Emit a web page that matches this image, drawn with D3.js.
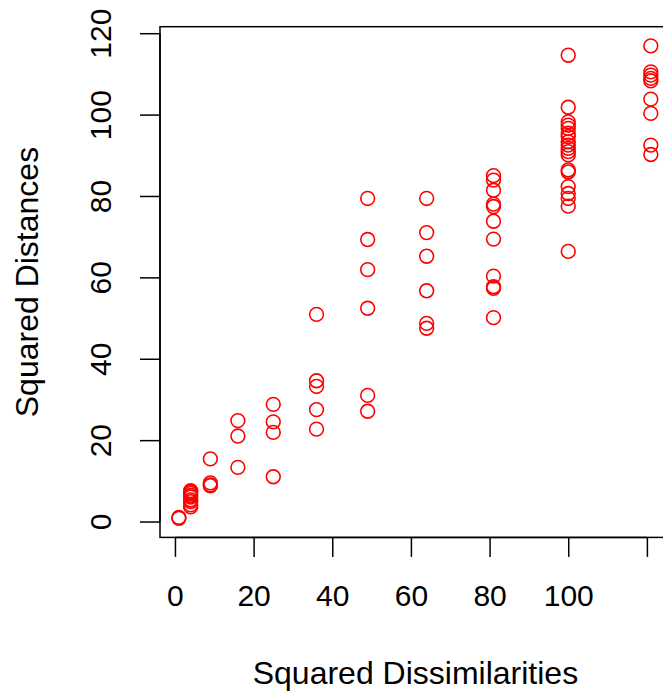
<!DOCTYPE html>
<html>
<head>
<meta charset="utf-8">
<script src="https://cdn.jsdelivr.net/npm/d3@7"></script>
<style>
  html, body { margin: 0; padding: 0; background: #fff; }
  svg { display: block; }
  text { font-family: "Liberation Sans", Arial, Helvetica, sans-serif; fill: #000; }
</style>
</head>
<body>
<svg id="chart" width="663" height="698"></svg>
<script>
// Squared dissimilarity levels and the squared configuration distances at each level
const dissimLevels = [1, 4, 9, 16, 25, 36, 49, 64, 81, 100, 121];
const distancesByLevel = [
  [1.0, 0.8],
  [3.6, 4.1, 4.9, 5.3, 6.0, 6.4, 6.9, 7.3, 7.6],
  [15.4, 9.5, 9.0, 8.8],
  [24.8, 21.0, 13.3],
  [28.8, 24.5, 21.9, 11.0],
  [50.9, 34.6, 33.2, 27.5, 22.7],
  [79.4, 69.3, 61.9, 52.4, 31.0, 27.1],
  [79.4, 71.0, 65.2, 56.7, 48.7, 47.5],
  [85.0, 83.9, 81.4, 78.0, 77.4, 73.8, 69.4, 60.3, 57.7, 57.3, 50.1],
  [114.6, 101.8, 98.2, 97.4, 96.6, 95.4, 94.6, 93.3, 92.5, 91.7, 90.9, 90.1, 86.4, 85.9, 82.3, 80.6, 79.4, 77.5, 66.4],
  [116.9, 110.5, 109.7, 108.9, 108.3, 103.8, 100.3, 92.5, 90.2]
];
const xTicks = [0, 20, 40, 60, 80, 100, 120];
const xTickLabels = ["0", "20", "40", "60", "80", "100", ""];
const yTicks = [0, 20, 40, 60, 80, 100, 120];
const xTitle = "Squared Dissimilarities";
const yTitle = "Squared Distances";

const points = [];
dissimLevels.forEach((d, i) => distancesByLevel[i].forEach(v => points.push({ x: d, y: v })));

const svg = d3.select("#chart");
const plot = { left: 160, top: 26.7, right: 669.7, bottom: 537.4 };

// R-style 4% padding around the data range
const x = d3.scaleLinear().domain([-3.8, 125.8]).range([plot.left, plot.right]);
const y = d3.scaleLinear().domain([-3.9, 121.6]).range([plot.bottom, plot.top]);

// points
svg.append("g")
  .selectAll("circle")
  .data(points)
  .join("circle")
  .attr("cx", d => x(d.x))
  .attr("cy", d => y(d.y))
  .attr("r", 6.9)
  .attr("fill", "none")
  .attr("stroke", "#ff0000")
  .attr("stroke-width", 1.6);

// plot frame
svg.append("rect")
  .attr("x", plot.left)
  .attr("y", plot.top)
  .attr("width", plot.right - plot.left)
  .attr("height", plot.bottom - plot.top)
  .attr("fill", "none")
  .attr("stroke", "#000")
  .attr("stroke-width", 1.5);

// x axis
const xAxis = d3.axisBottom(x)
  .tickValues(xTicks)
  .tickFormat((d, i) => xTickLabels[i])
  .tickSizeInner(19.5)
  .tickSizeOuter(0)
  .tickPadding(12);
const gx = svg.append("g").attr("transform", `translate(0,${plot.bottom})`).call(xAxis);
gx.select(".domain")
  .attr("d", `M${x(xTicks[0])},0H${x(xTicks[xTicks.length - 1])}`)
  .attr("stroke-width", 1.5);
gx.selectAll(".tick line").attr("stroke-width", 1.5);
gx.selectAll(".tick text")
  .attr("font-family", "Liberation Sans, Arial, sans-serif")
  .attr("font-size", 30)
  .attr("dy", "0.71em")
  .attr("y", 47);

// y axis with labels rotated parallel to the axis
const yAxis = d3.axisLeft(y)
  .tickValues(yTicks)
  .tickFormat(d3.format("d"))
  .tickSizeInner(20)
  .tickSizeOuter(0);
const gy = svg.append("g").attr("transform", `translate(${plot.left},0)`).call(yAxis);
gy.select(".domain")
  .attr("d", `M0,${y(yTicks[0])}V${y(yTicks[yTicks.length - 1])}`)
  .attr("stroke-width", 1.5);
gy.selectAll(".tick line").attr("stroke-width", 1.5);
gy.selectAll(".tick text")
  .attr("font-family", "Liberation Sans, Arial, sans-serif")
  .attr("font-size", 30)
  .attr("x", null)
  .attr("dy", null)
  .attr("text-anchor", "middle")
  .attr("transform", "translate(-49,0) rotate(-90)");

// axis titles
svg.append("text")
  .attr("x", x(60) + 4.5)
  .attr("y", 684)
  .attr("text-anchor", "middle")
  .attr("font-size", 32)
  .text(xTitle);

svg.append("text")
  .attr("transform", `translate(37.5,${(plot.top + plot.bottom) / 2}) rotate(-90)`)
  .attr("text-anchor", "middle")
  .attr("font-size", 32)
  .text(yTitle);
</script>
</body>
</html>
